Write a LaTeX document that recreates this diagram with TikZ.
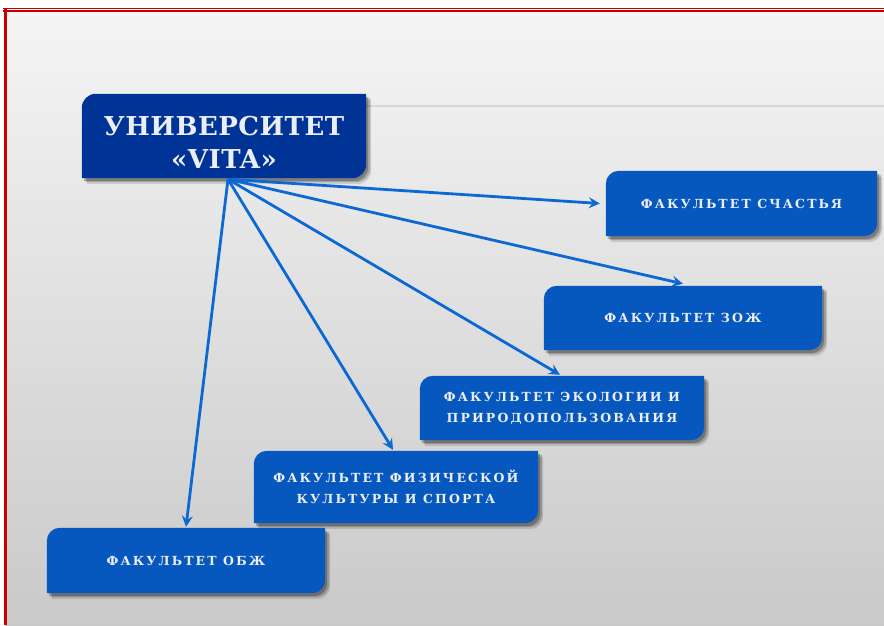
\documentclass[tikz,border=0pt]{standalone}
\usepackage{fontspec}
\setmainfont{DejaVu Serif}
\newfontfamily\boxfont[LetterSpace=17]{DejaVu Serif}
\newfontfamily\titlefont[LetterSpace=2]{DejaVu Serif}
\usetikzlibrary{arrows.meta,calc}
\definecolor{titleblue}{RGB}{0,51,150}
\definecolor{facblue}{RGB}{6,88,190}
\definecolor{arrowblue}{RGB}{12,104,212}
\definecolor{framered}{RGB}{200,0,0}
\definecolor{silver}{RGB}{236,238,245}
\pgfdeclarelayer{bg}
\pgfdeclarelayer{boxes}
\pgfsetlayers{bg,boxes,main}
\newcommand\diagshape[4]{%
  \path[#3] let \p1=($(#1.south west)+(#4)$), \p2=($(#1.north east)+(#4)$) in
  (\x1,\y1) -- (\x1,\y2-#2) arc[start angle=180,end angle=90,radius=#2]
  -- (\x2,\y2) -- (\x2,\y1+#2) arc[start angle=0,end angle=-90,radius=#2] -- cycle;}
\newcommand\boxwithshadow[3]{%
  \diagshape{#1}{#2}{fill=black,opacity=.12}{5,-6}
  \diagshape{#1}{#2}{fill=black,opacity=.18}{4,-4}
  \diagshape{#1}{#2}{fill=black,opacity=.25}{2,-3}
  \diagshape{#1}{#2}{fill=#3}{0,0}}
\tikzset{
  fac/.style={minimum width=#1, inner sep=0pt, text=silver, align=center,
    font=\boxfont\bfseries\fontsize{12.5}{21}\selectfont},
  conn/.style={draw=arrowblue, line width=2.8pt,
    -{Stealth[length=11pt,width=11pt,inset=4pt]}},
}
\begin{document}
\begin{tikzpicture}[x=1pt,y=1pt]
\useasboundingbox (0,0) rectangle (884,625);
\begin{pgfonlayer}{bg}
  \fill[white] (0,0) rectangle (884,625);
  \shade[top color=white!96!black, middle color=white!91!black, bottom color=white!79!black]
    (5,0) rectangle (884,614);
  \draw[framered, line width=1.3pt] (3,616.6) -- (884,616.6);
  \draw[framered, line width=2.2pt] (3,614) -- (884,614);
  \draw[framered, line width=3pt] (5.5,617.2) -- (5.5,0);
\end{pgfonlayer}

% nodes
\node[minimum width=284, minimum height=84, inner sep=0pt] (T) at (224,489) {};
\node[text=silver, align=center, inner sep=0pt,
  font=\titlefont\bfseries\fontsize{26}{33}\selectfont] (Tt) at (224,483) {УНИВЕРСИТЕТ\\«VITA»};
\node[fac=271, minimum height=65] (S) at (741.5,421.5) {ФАКУЛЬТЕТ СЧАСТЬЯ};
\node[fac=278, minimum height=64] (Z) at (683,307) {ФАКУЛЬТЕТ ЗОЖ};
\node[fac=284, minimum height=64] (E) at (562,217) {ФАКУЛЬТЕТ ЭКОЛОГИИ И\\ПРИРОДОПОЛЬЗОВАНИЯ};
\node[fac=284, minimum height=72] (F) at (396,138) {ФАКУЛЬТЕТ ФИЗИЧЕСКОЙ\\КУЛЬТУРЫ И СПОРТА};
\node[fac=278, minimum height=65] (O) at (186,64.5) {ФАКУЛЬТЕТ ОБЖ};

\begin{pgfonlayer}{boxes}
  \draw[white!84!black, line width=1.5pt] (T.east |- 0,519) -- (884,519);
  \boxwithshadow{T}{14pt}{titleblue}
  \boxwithshadow{S}{13pt}{facblue}
  \boxwithshadow{Z}{13pt}{facblue}
  \boxwithshadow{E}{13pt}{facblue}
  \boxwithshadow{F}{13pt}{facblue}
  \boxwithshadow{O}{13pt}{facblue}
\end{pgfonlayer}

\coordinate (src) at ([xshift=4pt,yshift=-1pt]T.south);
\draw[conn] (src) -- ([xshift=-6pt]S.west);
\draw[conn] (src) -- ([yshift=2pt]Z.north);
\draw[conn] (src) -- ([xshift=-2pt,yshift=1pt]E.north);
\draw[conn] (src) -- ([xshift=-3pt,yshift=1pt]F.north);
\draw[conn] (src) -- ([yshift=1pt]O.north);
\end{tikzpicture}
\end{document}
